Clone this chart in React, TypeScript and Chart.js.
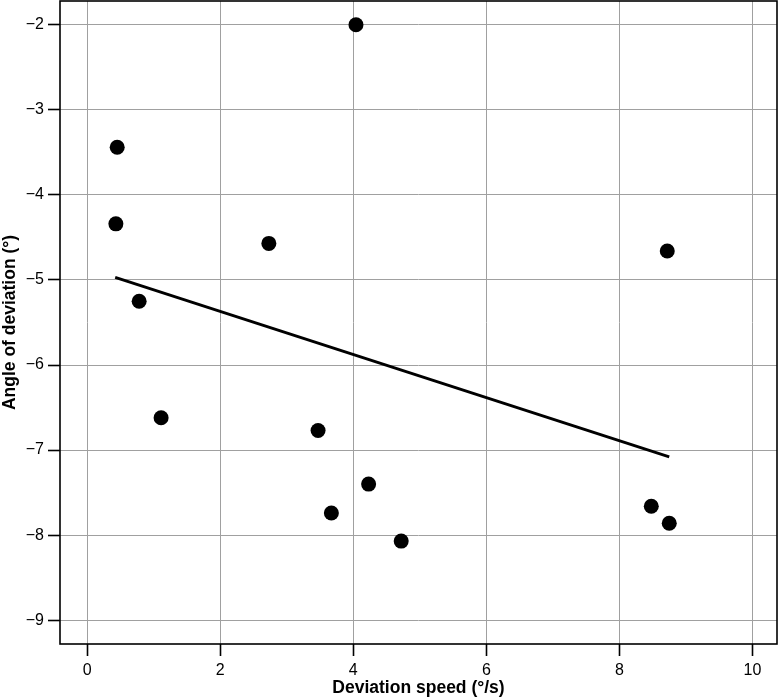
import React, { useEffect, useRef } from "react";
import { Chart, registerables } from "chart.js";

Chart.register(...registerables);

// Observed data (deviation speed °/s, angle of deviation °)
const speedValues = [4.04, 0.45, 0.43, 0.78, 1.11, 2.73, 3.47, 4.23, 3.67, 4.72, 8.72, 8.48, 8.75];
const angleValues = [-2.0, -3.44, -4.34, -5.25, -6.62, -4.57, -6.77, -7.4, -7.74, -8.07, -4.66, -7.66, -7.86];

// Fitted line endpoints
const fitX = [0.42, 8.75];
const fitY = [-4.97, -7.08];

const xTicks = [0, 2, 4, 6, 8, 10];
const yTicks = [-2, -3, -4, -5, -6, -7, -8, -9];

const xTitle = "Deviation speed (°/s)";
const yTitle = "Angle of deviation (°)";

const FONT = "'Liberation Sans', Arial, sans-serif";

const fmt = (v: number) => (v < 0 ? "\u2212" + Math.abs(v) : String(v));

const frame = {
  id: "frame",
  afterDatasetsDraw(chart: any) {
    const { ctx, chartArea } = chart;
    ctx.save();
    ctx.strokeStyle = "#000";
    ctx.lineWidth = 1.6;
    ctx.strokeRect(chartArea.left, chartArea.top, chartArea.right - chartArea.left, chartArea.bottom - chartArea.top);
    ctx.restore();
  },
};

export default function App() {
  const ref = useRef<HTMLCanvasElement | null>(null);
  useEffect(() => {
    if (!ref.current) return;
    const points = speedValues.map((x, i) => ({ x, y: angleValues[i] }));
    const fit = fitX.map((x, i) => ({ x, y: fitY[i] }));
    const chart = new Chart(ref.current, {
      type: "scatter",
      data: {
        datasets: [
          {
            type: "line",
            data: fit,
            borderColor: "#000",
            borderWidth: 2.8,
            pointRadius: 0,
            fill: false,
            showLine: true,
          } as any,
          {
            data: points,
            backgroundColor: "#000",
            borderWidth: 0,
            pointRadius: 7.5,
            pointHoverRadius: 7.5,
          },
        ],
      },
      options: {
        responsive: false,
        animation: false,
        layout: { autoPadding: false, padding: { top: 1, right: 2, left: 0, bottom: 0 } },
        plugins: { legend: { display: false }, tooltip: { enabled: false } },
        scales: {
          x: {
            type: "linear",
            min: -0.41,
            max: 10.37,
            afterBuildTicks: (s: any) => {
              s.ticks = xTicks.map((v) => ({ value: v }));
            },
            afterFit: (s: any) => {
              s.height = 56;
              s.paddingLeft = 0;
              s.paddingRight = 0;
            },
            grid: { color: "#a0a0a0", lineWidth: 1, tickLength: 12, tickColor: "#000", tickWidth: 1.6 },
            border: { display: false },
            ticks: { color: "#000", padding: 5, font: { family: FONT, size: 16 }, callback: (v: any) => fmt(Number(v)) },
            title: { display: true, text: xTitle, color: "#000", font: { family: FONT, size: 17.5, weight: "bold" }, padding: { top: 0, bottom: 1 } },
          },
          y: {
            type: "linear",
            min: -9.28,
            max: -1.72,
            afterBuildTicks: (s: any) => {
              s.ticks = yTicks.map((v) => ({ value: v }));
            },
            afterFit: (s: any) => {
              s.width = 60;
              s.paddingTop = 0;
              s.paddingBottom = 0;
            },
            grid: { color: "#a0a0a0", lineWidth: 1, tickLength: 12, tickColor: "#000", tickWidth: 1.6 },
            border: { display: false },
            ticks: { color: "#000", padding: 4, font: { family: FONT, size: 16 }, callback: (v: any) => fmt(Number(v)) },
            title: { display: true, text: yTitle, color: "#000", font: { family: FONT, size: 17.5, weight: "bold" }, padding: { top: 0, bottom: 0 } },
          },
        },
      },
      plugins: [frame],
    });
    return () => chart.destroy();
  }, []);
  return (
    <div style={{ position: "absolute", left: 0, top: 0, width: 779, height: 700, background: "#fff" }}>
      <canvas ref={ref} width={779} height={700} />
    </div>
  );
}
